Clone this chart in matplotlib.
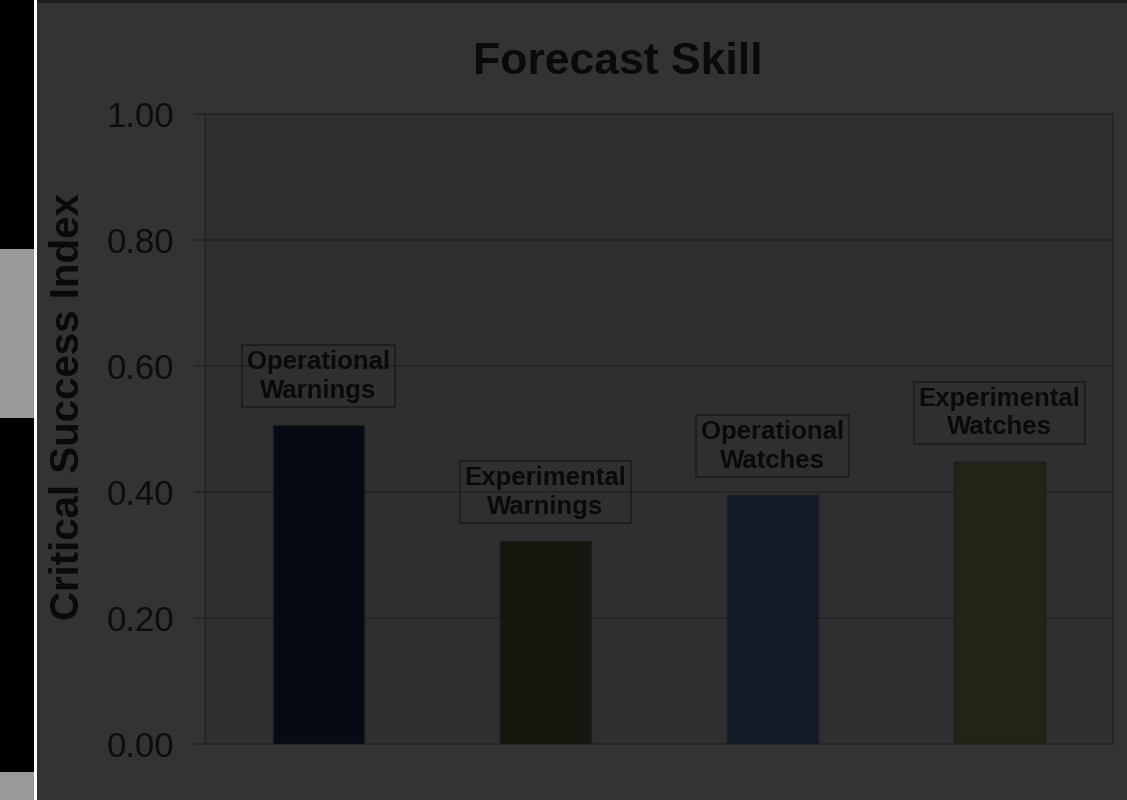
import matplotlib
matplotlib.use("Agg")
import matplotlib.pyplot as plt
from matplotlib.patches import Rectangle

# Data
categories = ["Operational\nWarnings", "Experimental\nWarnings",
              "Operational\nWatches", "Experimental\nWatches"]
csi_values = [0.506, 0.322, 0.395, 0.448]
bar_colors = ["#050a14", "#15180e", "#131c26", "#222616"]
y_ticks = [0.0, 0.2, 0.4, 0.6, 0.8, 1.0]

plt.rcParams['font.family'] = ['Liberation Sans', 'DejaVu Sans']

W, H = 1127, 800
fig = plt.figure(figsize=(W / 100, H / 100), dpi=100)
fig.patch.set_facecolor("#333333")

# Left side strip with a white divider
fig.patches.append(Rectangle((0, 0), 34 / W, 1, transform=fig.transFigure,
                             facecolor="#000000", edgecolor="none", zorder=0))
fig.patches.append(Rectangle((0, 1 - 418 / H), 34 / W, (418 - 249) / H,
                             transform=fig.transFigure, facecolor="#999999",
                             edgecolor="none", zorder=1))
fig.patches.append(Rectangle((0, 0), 34 / W, (800 - 772) / H,
                             transform=fig.transFigure, facecolor="#999999",
                             edgecolor="none", zorder=1))
fig.patches.append(Rectangle((34 / W, 0), 2.5 / W, 1, transform=fig.transFigure,
                             facecolor="#ffffff", edgecolor="none", zorder=2))
fig.patches.append(Rectangle((36.5 / W, 1 - 3 / H), 1 - 36.5 / W, 3 / H,
                             transform=fig.transFigure, facecolor="#1e1e1e",
                             edgecolor="none", zorder=2))

left, right, top, bottom = 205, 1113, 113.5, 744
ax = fig.add_axes([left / W, 1 - bottom / H, (right - left) / W, (bottom - top) / H])
ax.set_facecolor("#2f2f31")

x = list(range(len(categories)))
ax.bar(x, csi_values, width=0.4, color=bar_colors, edgecolor="#1c1c1c",
       linewidth=1, zorder=3)

for xi, val, lab in zip(x, csi_values, categories):
    ax.annotate(lab, (xi, val), xytext=(0, 16), textcoords="offset points",
                ha="center", va="bottom", fontsize=18.5, fontweight="bold",
                color="#0a0a0a", linespacing=1.25, zorder=4,
                bbox=dict(boxstyle="square,pad=0.18", facecolor="none",
                          edgecolor="#1c1c1c", linewidth=1.2))

ax.set_xlim(-0.5, len(categories) - 0.5)
ax.set_ylim(0, 1.0)
ax.set_yticks(y_ticks)
ax.set_yticklabels([f"{t:.2f}" for t in y_ticks])
ax.set_xticks([])
ax.yaxis.grid(True, color="#242424", linewidth=1.2, zorder=0)
ax.set_axisbelow(True)
ax.tick_params(axis="y", length=8, width=1.2, color="#242424",
               labelsize=25, labelcolor="#0d0d0d", pad=14)
for s in ax.spines.values():
    s.set_color("#242424")
    s.set_linewidth(1.2)

ax.set_ylabel("Critical Success Index", fontsize=29, fontweight="bold",
              color="#0a0a0a")
ax.yaxis.set_label_coords(-(205 - 87) / (right - left), (744 - 407) / (bottom - top))
fig.text(618 / W, 1 - 62 / H, "Forecast Skill", ha="center", va="center",
         fontsize=32, fontweight="bold", color="#0a0a0a")

fig.savefig("out.png", dpi=100, facecolor=fig.get_facecolor())
